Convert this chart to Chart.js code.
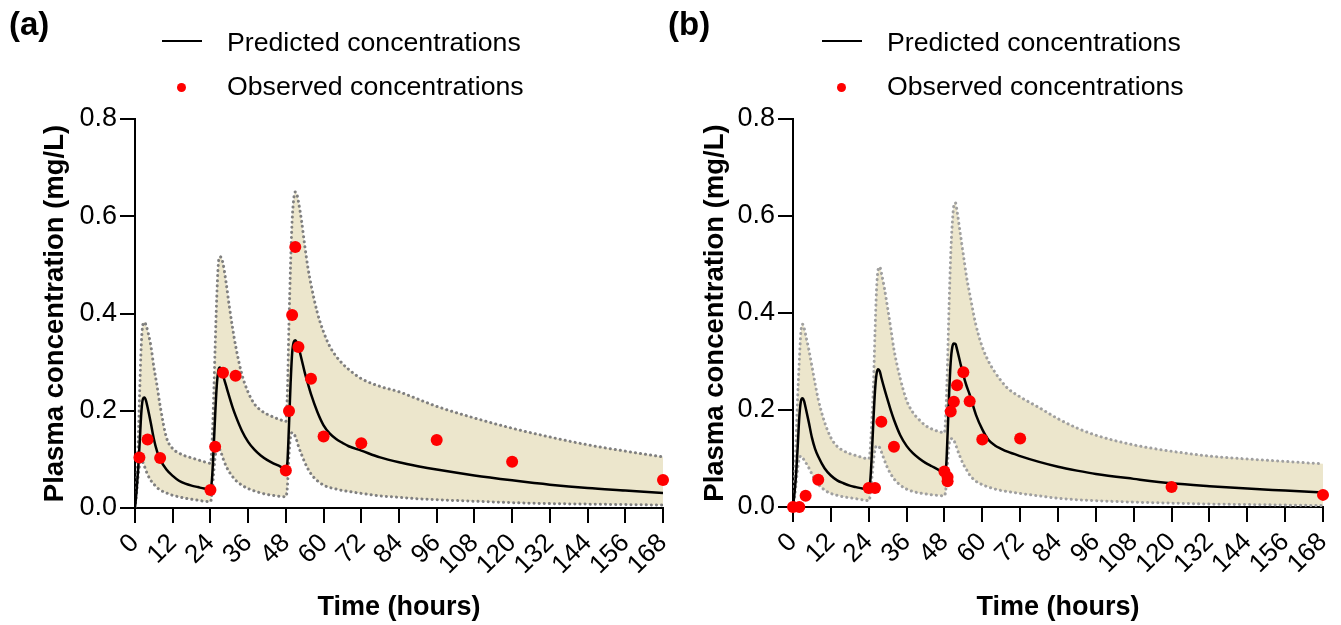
<!DOCTYPE html>
<html><head><meta charset="utf-8">
<script src="https://cdn.jsdelivr.net/npm/chart.js@4.4.1/dist/chart.umd.min.js"></script>
<style>
html,body{margin:0;padding:0;background:#fff;width:1341px;height:625px;overflow:hidden;font-family:"Liberation Sans",Arial,sans-serif;}
canvas{position:absolute;top:0;}
.lbl{position:absolute;font-weight:bold;font-size:33px;line-height:33px;color:#000;}
.leg{position:absolute;font-size:26.7px;line-height:26.7px;white-space:nowrap;color:#000;}
.legline{position:absolute;height:2px;background:#000;}
.legdot{position:absolute;width:9px;height:9px;border-radius:50%;background:#ff0000;}
</style></head>
<body>
<canvas id="ca" width="670" height="625" style="left:0"></canvas>
<canvas id="cb" width="671" height="625" style="left:670px"></canvas>
<div class="lbl" style="left:9px;top:7px">(a)</div>
<div class="lbl" style="left:668px;top:7px">(b)</div>
<div class="legline" style="left:162px;top:40px;width:40px"></div>
<div class="leg" style="left:227px;top:29px">Predicted concentrations</div>
<div class="legdot" style="left:177px;top:83px"></div>
<div class="leg" style="left:227px;top:73px">Observed concentrations</div>
<div class="legline" style="left:822px;top:40px;width:40px"></div>
<div class="leg" style="left:887px;top:29px">Predicted concentrations</div>
<div class="legdot" style="left:837px;top:83px"></div>
<div class="leg" style="left:887px;top:73px">Observed concentrations</div>
<script>
// ---- data ----
const hours = [0,0.5,1,1.5,2,2.5,3,3.5,4,5,6,7,8,10,12,14,16,18,20,22,24,
 24.5,25,25.5,26,26.5,27,27.5,28,29,30,31,32,34,36,38,40,42,44,46,48,
 48.5,49,49.5,50,50.5,51,51.5,52,53,54,55,56,58,60,62,64,66,68,72,78,84,90,96,108,120,132,144,156,168];

const medianA = [0,0.035,0.08,0.135,0.195,0.224,0.227,0.221,0.207,0.176,0.142,0.117,0.100,0.079,0.066,0.056,0.050,0.046,0.043,0.040,0.038,
 0.06,0.12,0.19,0.25,0.282,0.289,0.285,0.273,0.251,0.229,0.208,0.19,0.159,0.136,0.12,0.108,0.099,0.092,0.086,0.08,
 0.095,0.17,0.255,0.318,0.341,0.345,0.341,0.332,0.306,0.279,0.256,0.234,0.198,0.170,0.153,0.142,0.134,0.127,0.118,0.104,0.094,0.086,0.079,0.067,0.057,0.048,0.041,0.036,0.031];
const upperA = [0,0.05,0.13,0.24,0.335,0.377,0.382,0.376,0.365,0.335,0.29,0.252,0.21,0.145,0.122,0.113,0.107,0.103,0.099,0.095,0.092,
 0.13,0.22,0.33,0.43,0.50,0.517,0.514,0.503,0.463,0.415,0.372,0.334,0.275,0.238,0.214,0.201,0.193,0.187,0.182,0.178,
 0.24,0.38,0.50,0.59,0.635,0.65,0.645,0.63,0.59,0.54,0.495,0.46,0.402,0.362,0.332,0.312,0.297,0.285,0.266,0.25,0.239,0.224,0.209,0.185,0.164,0.146,0.13,0.117,0.105];
const lowerA = [0,0.03,0.065,0.09,0.098,0.094,0.086,0.077,0.069,0.057,0.049,0.042,0.037,0.031,0.026,0.023,0.02,0.018,0.016,0.014,0.013,
 0.03,0.07,0.105,0.121,0.124,0.12,0.112,0.102,0.086,0.074,0.065,0.057,0.047,0.04,0.035,0.031,0.028,0.026,0.024,0.023,
 0.045,0.11,0.147,0.155,0.153,0.147,0.138,0.127,0.11,0.094,0.081,0.07,0.056,0.047,0.042,0.039,0.036,0.034,0.03,0.025,0.022,0.019,0.017,0.014,0.011,0.009,0.008,0.007,0.006];
const obsTimeA = [1.4,4,8,24,25.5,28,32,48,49,50,51,52,56,60,72,96,120,168];
const obsValA  = [0.104,0.141,0.103,0.037,0.126,0.278,0.272,0.077,0.1995,0.397,0.537,0.331,0.266,0.147,0.133,0.140,0.095,0.0576];

const medianB = [0,0.03,0.07,0.125,0.185,0.218,0.224,0.219,0.205,0.175,0.143,0.12,0.104,0.08,0.065,0.055,0.049,0.044,0.041,0.038,0.036,
 0.055,0.11,0.18,0.24,0.275,0.284,0.28,0.267,0.243,0.221,0.199,0.18,0.148,0.126,0.111,0.1,0.091,0.084,0.077,0.07,
 0.08,0.15,0.235,0.3,0.33,0.337,0.336,0.325,0.298,0.272,0.25,0.232,0.19,0.16,0.138,0.127,0.12,0.114,0.105,0.093,0.083,0.075,0.068,0.058,0.049,0.043,0.038,0.034,0.03];
const upperB = [0,0.06,0.14,0.23,0.3,0.36,0.377,0.37,0.355,0.325,0.29,0.255,0.222,0.175,0.143,0.125,0.116,0.11,0.106,0.102,0.099,
 0.12,0.18,0.25,0.36,0.45,0.49,0.495,0.483,0.45,0.41,0.368,0.325,0.265,0.22,0.195,0.18,0.168,0.161,0.156,0.153,
 0.2,0.3,0.42,0.52,0.585,0.622,0.627,0.61,0.565,0.52,0.475,0.44,0.375,0.33,0.3,0.278,0.26,0.245,0.227,0.205,0.182,0.163,0.148,0.128,0.115,0.105,0.099,0.094,0.089];
const lowerB = [0,0.02,0.05,0.08,0.1,0.105,0.102,0.097,0.092,0.081,0.068,0.056,0.047,0.035,0.028,0.024,0.021,0.019,0.017,0.015,0.013,
 0.025,0.06,0.095,0.118,0.126,0.126,0.122,0.114,0.096,0.08,0.068,0.058,0.045,0.037,0.032,0.029,0.027,0.025,0.024,0.023,
 0.04,0.09,0.13,0.14,0.141,0.137,0.13,0.12,0.103,0.088,0.077,0.066,0.053,0.046,0.041,0.037,0.034,0.032,0.028,0.023,0.018,0.015,0.013,0.01,0.008,0.006,0.005,0.004,0.003];
const obsTimeB = [0,2,4,8,24,26,28,32,48,49,49,50,51,52,54,56,60,72,120,168];
const obsValB  = [0,0,0.023,0.056,0.039,0.039,0.176,0.124,0.073,0.062,0.053,0.197,0.217,0.251,0.278,0.218,0.139,0.141,0.041,0.025];

const xTicks = [0,12,24,36,48,60,72,84,96,108,120,132,144,156,168];
const yTicks = [0,0.2,0.4,0.6,0.8];
const yTickLabels = ['0.0','0.2','0.4','0.6','0.8'];
const xTitle = 'Time (hours)';
const yTitle = 'Plasma concentration (mg/L)';

// ---- chart ----
const FAM = '"Liberation Sans", Arial, sans-serif';
function pts(xs, ys){ return xs.map((x,i)=>({x:x, y:ys[i]})); }

function makeChart(id, med, up, lo, ot, ov, cfg){
  const dotted = {
    borderColor: cfg.bound, borderWidth: 3, borderDash: [0.1, 5], borderCapStyle: 'round',
    pointRadius: 0, cubicInterpolationMode: 'monotone'
  };
  return new Chart(document.getElementById(id), {
    type: 'line',
    data: { datasets: [
      { data: pts(ot, ov), showLine: false, pointRadius: 6, pointHoverRadius: 6,
        pointBackgroundColor: '#ff0000', pointBorderWidth: 0, order: 0, clip: false },
      { data: pts(hours, med), borderColor: '#000', borderWidth: 2.5, pointRadius: 0,
        fill: false, order: 1, cubicInterpolationMode: 'monotone' },
      Object.assign({ data: pts(hours, up), fill: 3, backgroundColor: '#ece6cc', order: 2 }, dotted),
      Object.assign({ data: pts(hours, lo), fill: false, order: 3 }, dotted)
    ]},
    options: {
      animation: false, responsive: false, devicePixelRatio: 1,
      layout: { padding: { top: 119, right: cfg.padR, left: 0, bottom: 0 } },
      plugins: { legend: { display: false }, tooltip: { enabled: false },
                 filler: { drawTime: 'beforeDatasetsDraw' } },
      scales: {
        x: { type: 'linear', min: 0, max: 168,
             afterBuildTicks: s => { s.ticks = xTicks.map(v => ({ value: v })); },
             ticks: { autoSkip: false, maxRotation: 45, minRotation: 45, color: '#000',
                      font: { size: 26, family: FAM }, padding: 5,
                      callback: (v, i) => String(xTicks[i]) },
             grid: { drawOnChartArea: false, tickLength: 15, lineWidth: 2, color: '#000' },
             border: { width: 2, color: '#000' },
             title: { display: true, text: xTitle, color: '#000',
                      font: { size: 27, weight: 'bold', family: FAM }, padding: { top: 0, bottom: 1 } },
             afterFit: s => { s.height = cfg.xH; s.paddingLeft = 0; s.paddingRight = 0; } },
        y: { type: 'linear', min: 0, max: 0.8,
             afterBuildTicks: s => { s.ticks = yTicks.map(v => ({ value: v })); },
             ticks: { color: '#000', font: { size: 27, family: FAM }, padding: 3,
                      callback: (v, i) => yTickLabels[i] },
             grid: { drawOnChartArea: false, tickLength: 15, lineWidth: 2, color: '#000' },
             border: { width: 2, color: '#000' },
             title: { display: true, text: yTitle, color: '#000',
                      font: { size: 27.5, weight: 'bold', family: FAM }, padding: { top: cfg.tPad, bottom: 0 } },
             afterFit: s => { s.width = cfg.yW; s.paddingTop = 0; s.paddingBottom = 0; } }
      }
    }
  });
}

makeChart('ca', medianA, upperA, lowerA, obsTimeA, obsValA,
  { bound: '#808080', padR: 7, xH: 117, yW: 135, tPad: 39 });
makeChart('cb', medianB, upperB, lowerB, obsTimeB, obsValB,
  { bound: '#a0a0a0', padR: 18, xH: 118, yW: 123, tPad: 29 });
</script>
</body></html>
